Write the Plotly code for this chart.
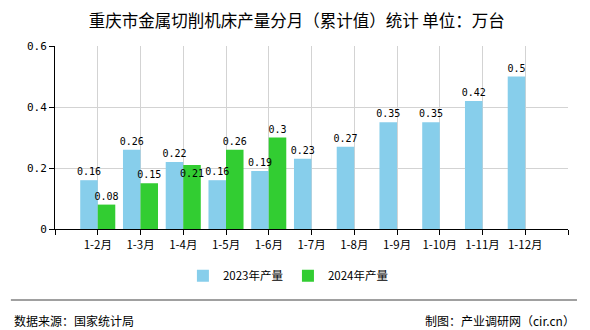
import plotly.graph_objects as go

months = ["1-2月", "1-3月", "1-4月", "1-5月", "1-6月", "1-7月",
          "1-8月", "1-9月", "1-10月", "1-11月", "1-12月"]
output_2023 = [0.16, 0.26, 0.22, 0.16, 0.19, 0.23, 0.27, 0.35, 0.35, 0.42, 0.5]
output_2024 = [0.08, 0.15, 0.21, 0.26, 0.3]
y_ticks = [0, 0.2, 0.4, 0.6]
y_tick_text = ["0", "0.2", "0.4", "0.6"]

CJK = "Noto Sans CJK SC"
MONO = "DejaVu Sans Mono"
LABEL_FONT = dict(family=MONO, size=10, color="#000000")

pos_2023 = list(range(len(output_2023)))
pos_2024 = list(range(len(output_2024)))

# a label that would collide with its neighbour sits just inside the bar top
pos_text_2023 = ["outside"] * len(output_2023)
pos_text_2024 = ["inside" if i < len(output_2023) and abs(output_2023[i] - v) < 0.03
                 else "outside" for i, v in enumerate(output_2024)]

series = [
    ("2023年产量", pos_2023, output_2023, "#87CEEB", "g2023", pos_text_2023),
    ("2024年产量", pos_2024, output_2024, "#32CD32", "g2024", pos_text_2024),
]

fig = go.Figure()
# visible bars first
for name, xs, ys, color, group, _ in series:
    fig.add_trace(go.Bar(
        name=name, x=xs, y=ys, offsetgroup=group,
        marker=dict(color=color, line=dict(width=0)),
        hoverinfo="skip",
    ))
# transparent copies on top carry the value labels so no bar hides them
for name, xs, ys, color, group, tpos in series:
    fig.add_trace(go.Bar(
        name=name, x=xs, y=ys, offsetgroup=group, showlegend=False,
        marker=dict(color="rgba(0,0,0,0)", line=dict(width=0)),
        text=[f"{v:g}" for v in ys], textposition=tpos,
        insidetextanchor="end", textangle=0, constraintext="none",
        textfont=LABEL_FONT, insidetextfont=LABEL_FONT, outsidetextfont=LABEL_FONT,
        cliponaxis=False,
    ))

fig.update_layout(
    width=590, height=330,
    margin=dict(l=55, r=22, t=46, b=101),
    paper_bgcolor="#ffffff", plot_bgcolor="#ffffff",
    barmode="group", bargap=0.18, bargroupgap=0,
    title=dict(text="重庆市金属切削机床产量分月（累计值）统计 单位：万台",
               x=0.503, xanchor="center", y=0.936, yanchor="middle",
               font=dict(family=CJK, size=16.5, color="#000000")),
    font=dict(family=CJK, size=12, color="#000000"),
    showlegend=True,
    legend=dict(orientation="h", x=0.455, xanchor="center", y=-0.255, yanchor="middle",
                font=dict(family=CJK, size=11.5, color="#000000"),
                itemwidth=30, traceorder="normal"),
)

fig.update_xaxes(
    range=[-1, 11],
    tickmode="array",
    tickvals=list(range(-1, len(months) + 1)),
    ticktext=[""] + months + [""],
    showgrid=True, gridcolor="#d3d3d3", gridwidth=1,
    showline=True, linecolor="#000000", linewidth=1,
    ticks="outside", ticklen=5, tickcolor="#000000",
    tickfont=dict(family=CJK, size=11.5, color="#000000"),
    zeroline=False, fixedrange=True,
)
fig.update_yaxes(
    range=[0, 0.6],
    tickmode="array", tickvals=y_ticks, ticktext=y_tick_text,
    showgrid=True, gridcolor="#d3d3d3", gridwidth=1,
    showline=True, linecolor="#000000", linewidth=1,
    ticks="outside", ticklen=5, tickcolor="#000000",
    tickfont=dict(family=MONO, size=11, color="#000000"),
    zeroline=False, fixedrange=True,
)

# footer rule and source notes
fig.add_shape(type="line", xref="paper", yref="paper",
              x0=-0.086, x1=1.0175, y0=-0.388, y1=-0.388,
              line=dict(color="#808080", width=1.5))
fig.add_annotation(text="数据来源：国家统计局", xref="paper", yref="paper",
                   x=-0.084, y=-0.5, xanchor="left", yanchor="middle",
                   showarrow=False, font=dict(family=CJK, size=12, color="#000000"))
fig.add_annotation(text="制图：产业调研网（cir.cn）", xref="paper", yref="paper",
                   x=1.0175, y=-0.5, xanchor="right", yanchor="middle",
                   showarrow=False, font=dict(family=CJK, size=12, color="#000000"))

fig.write_html("out.html", config={"displayModeBar": False})
